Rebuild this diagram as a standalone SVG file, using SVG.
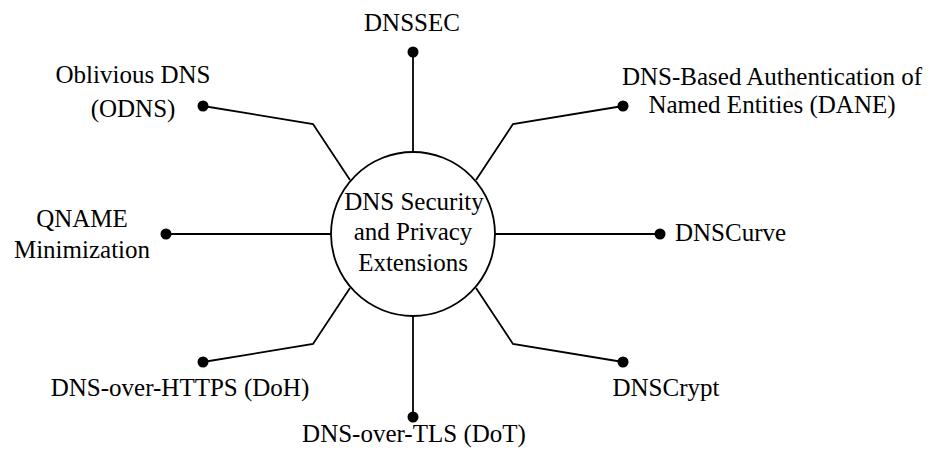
<svg xmlns="http://www.w3.org/2000/svg" width="941" height="457" viewBox="0 0 941 457">
<style>
text { font-family: 'Liberation Serif', 'Times New Roman', serif; font-size: 25px; fill: #000; }
.c { text-anchor: middle; }
.s { text-anchor: start; }
line, polyline { stroke: #000; stroke-width: 1.8; fill: none; }
.dot { fill: #000; }
</style>
<rect width="941" height="457" fill="#fff"/>
<g id="connectors">
<line x1="413" y1="152" x2="413" y2="53"/>
<line x1="413" y1="316" x2="413" y2="417"/>
<line x1="495" y1="234" x2="660" y2="234"/>
<line x1="331" y1="234" x2="166" y2="234"/>
<polyline points="350,180 313,124 203,106"/>
<polyline points="476,180 513,124 623,106"/>
<polyline points="350,288 313,344 203,362"/>
<polyline points="476,288 513,344 623,362"/>
</g>
<g id="center">
<circle cx="413" cy="234" r="82" fill="#fff" stroke="#000" stroke-width="1.8"/>
<text class="c" x="414" y="210">DNS Security</text>
<text class="c" x="413" y="240">and Privacy</text>
<text class="c" x="413" y="271">Extensions</text>
</g>
<g id="dnssec">
<circle class="dot" cx="413" cy="52" r="5.5"/>
<text class="c" x="412" y="31">DNSSEC</text>
</g>
<g id="odns">
<circle class="dot" cx="203" cy="106" r="5.5"/>
<text class="c" x="133" y="83">Oblivious DNS</text>
<text class="c" x="133" y="117">(ODNS)</text>
</g>
<g id="dane">
<circle class="dot" cx="623" cy="106" r="5.5"/>
<text class="c" x="772" y="85">DNS-Based Authentication of</text>
<text class="c" x="772" y="113">Named Entities (DANE)</text>
</g>
<g id="qname">
<circle class="dot" cx="166" cy="234" r="5.5"/>
<text class="c" x="82" y="227">QNAME</text>
<text class="c" x="82" y="258">Minimization</text>
</g>
<g id="dnscurve">
<circle class="dot" cx="660" cy="234" r="5.5"/>
<text class="s" x="675" y="241">DNSCurve</text>
</g>
<g id="doh">
<circle class="dot" cx="203" cy="362" r="5.5"/>
<text class="c" x="180" y="396">DNS-over-HTTPS (DoH)</text>
</g>
<g id="dnscrypt">
<circle class="dot" cx="623" cy="362" r="5.5"/>
<text class="c" x="666" y="396">DNSCrypt</text>
</g>
<g id="dot-tls">
<circle class="dot" cx="413" cy="417" r="5.5"/>
<text class="c" x="414" y="442">DNS-over-TLS (DoT)</text>
</g>
</svg>
